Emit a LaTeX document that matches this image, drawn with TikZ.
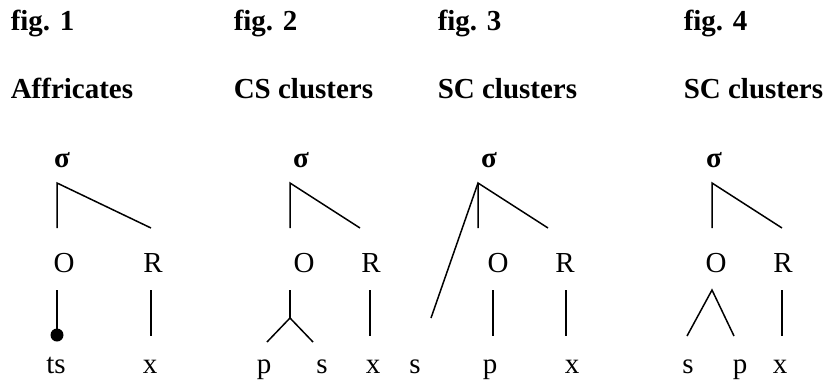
\documentclass[tikz,border=0pt]{standalone}
\usepackage{fontspec}
\setmainfont{Liberation Serif}

\begin{document}
\begin{tikzpicture}[x=1pt,y=-1pt,line width=1.5pt,
  lbl/.style={anchor=base,inner sep=0pt,font=\fontsize{29}{34}\selectfont},
  ttl/.style={anchor=base west,inner sep=0pt,font=\fontsize{29}{34}\selectfont\bfseries}]
  \useasboundingbox (0,0) rectangle (829,383);
  % 标题
  \node[ttl] (f1) at (10,30) {fig. 1};
  \node[ttl] (f2) at (233,30) {fig. 2};
  \node[ttl] (f3) at (437,30) {fig. 3};
  \node[ttl] (f4) at (683,30) {fig. 4};
  \node[ttl] (h1) at (10,98) {Affricates};
  \node[ttl] (h2) at (233,98) {CS clusters};
  \node[ttl] (h3) at (437,98) {SC clusters};
  \node[ttl] (h4) at (683,98) {SC clusters};
  % fig. 1
  \node[lbl,font=\fontsize{29}{34}\selectfont\bfseries] (sg1) at (62,167) {σ};
  \node[lbl] (o1) at (64,272) {O};
  \node[lbl] (r1) at (153,272) {R};
  \node[lbl] (ts1) at (56,373) {ts};
  \node[lbl] (x1) at (150,373) {x};
  \coordinate (t1) at (57,183);
  \coordinate (a1) at (57,228);
  \coordinate (b1) at (151,228);
  \coordinate (c1) at (57,290);
  \coordinate (d1) at (57,335);
  \coordinate (e1) at (151,290);
  \coordinate (g1) at (151,336);
  \draw (a1) -- (t1) -- (b1);
  \draw (c1) -- (d1);
  \fill (d1) circle (6.5);
  \draw (e1) -- (g1);
  % fig. 2
  \node[lbl,font=\fontsize{29}{34}\selectfont\bfseries] (sg2) at (301,167) {σ};
  \node[lbl] (o2) at (304,272) {O};
  \node[lbl] (r2) at (371,272) {R};
  \node[lbl] (p2) at (264,373) {p};
  \node[lbl] (s2) at (322,373) {s};
  \node[lbl] (x2) at (373,373) {x};
  \coordinate (t2) at (290,183);
  \coordinate (a2) at (290,228);
  \coordinate (b2) at (360,228);
  \coordinate (c2) at (290,290);
  \coordinate (d2) at (290,318);
  \coordinate (l2) at (267,342);
  \coordinate (m2) at (313,342);
  \coordinate (e2) at (370,290);
  \coordinate (g2) at (370,336);
  \draw (a2) -- (t2) -- (b2);
  \draw (c2) -- (d2);
  \draw (l2) -- (d2) -- (m2);
  \draw (e2) -- (g2);
  % fig. 3
  \node[lbl,font=\fontsize{29}{34}\selectfont\bfseries] (sg3) at (489,167) {σ};
  \node[lbl] (o3) at (498,272) {O};
  \node[lbl] (r3) at (565,272) {R};
  \node[lbl] (s3) at (415,373) {s};
  \node[lbl] (p3) at (490,373) {p};
  \node[lbl] (x3) at (572,373) {x};
  \coordinate (t3) at (478,183);
  \coordinate (a3) at (478,228);
  \coordinate (b3) at (548,228);
  \coordinate (k3) at (431,318);
  \coordinate (c3) at (493,290);
  \coordinate (d3) at (493,336);
  \coordinate (e3) at (566,290);
  \coordinate (g3) at (566,336);
  \draw (a3) -- (t3) -- (b3);
  \draw (t3) -- (k3);
  \draw (c3) -- (d3);
  \draw (e3) -- (g3);
  % fig. 4
  \node[lbl,font=\fontsize{29}{34}\selectfont\bfseries] (sg4) at (714,167) {σ};
  \node[lbl] (o4) at (716,272) {O};
  \node[lbl] (r4) at (783,272) {R};
  \node[lbl] (s4) at (688,373) {s};
  \node[lbl] (p4) at (740,373) {p};
  \node[lbl] (x4) at (780,373) {x};
  \coordinate (t4) at (712,183);
  \coordinate (a4) at (712,228);
  \coordinate (b4) at (782,228);
  \coordinate (c4) at (712,290);
  \coordinate (l4) at (687,336);
  \coordinate (m4) at (734,336);
  \coordinate (e4) at (782,290);
  \coordinate (g4) at (782,336);
  \draw (a4) -- (t4) -- (b4);
  \draw (l4) -- (c4) -- (m4);
  \draw (e4) -- (g4);
\end{tikzpicture}
\end{document}
